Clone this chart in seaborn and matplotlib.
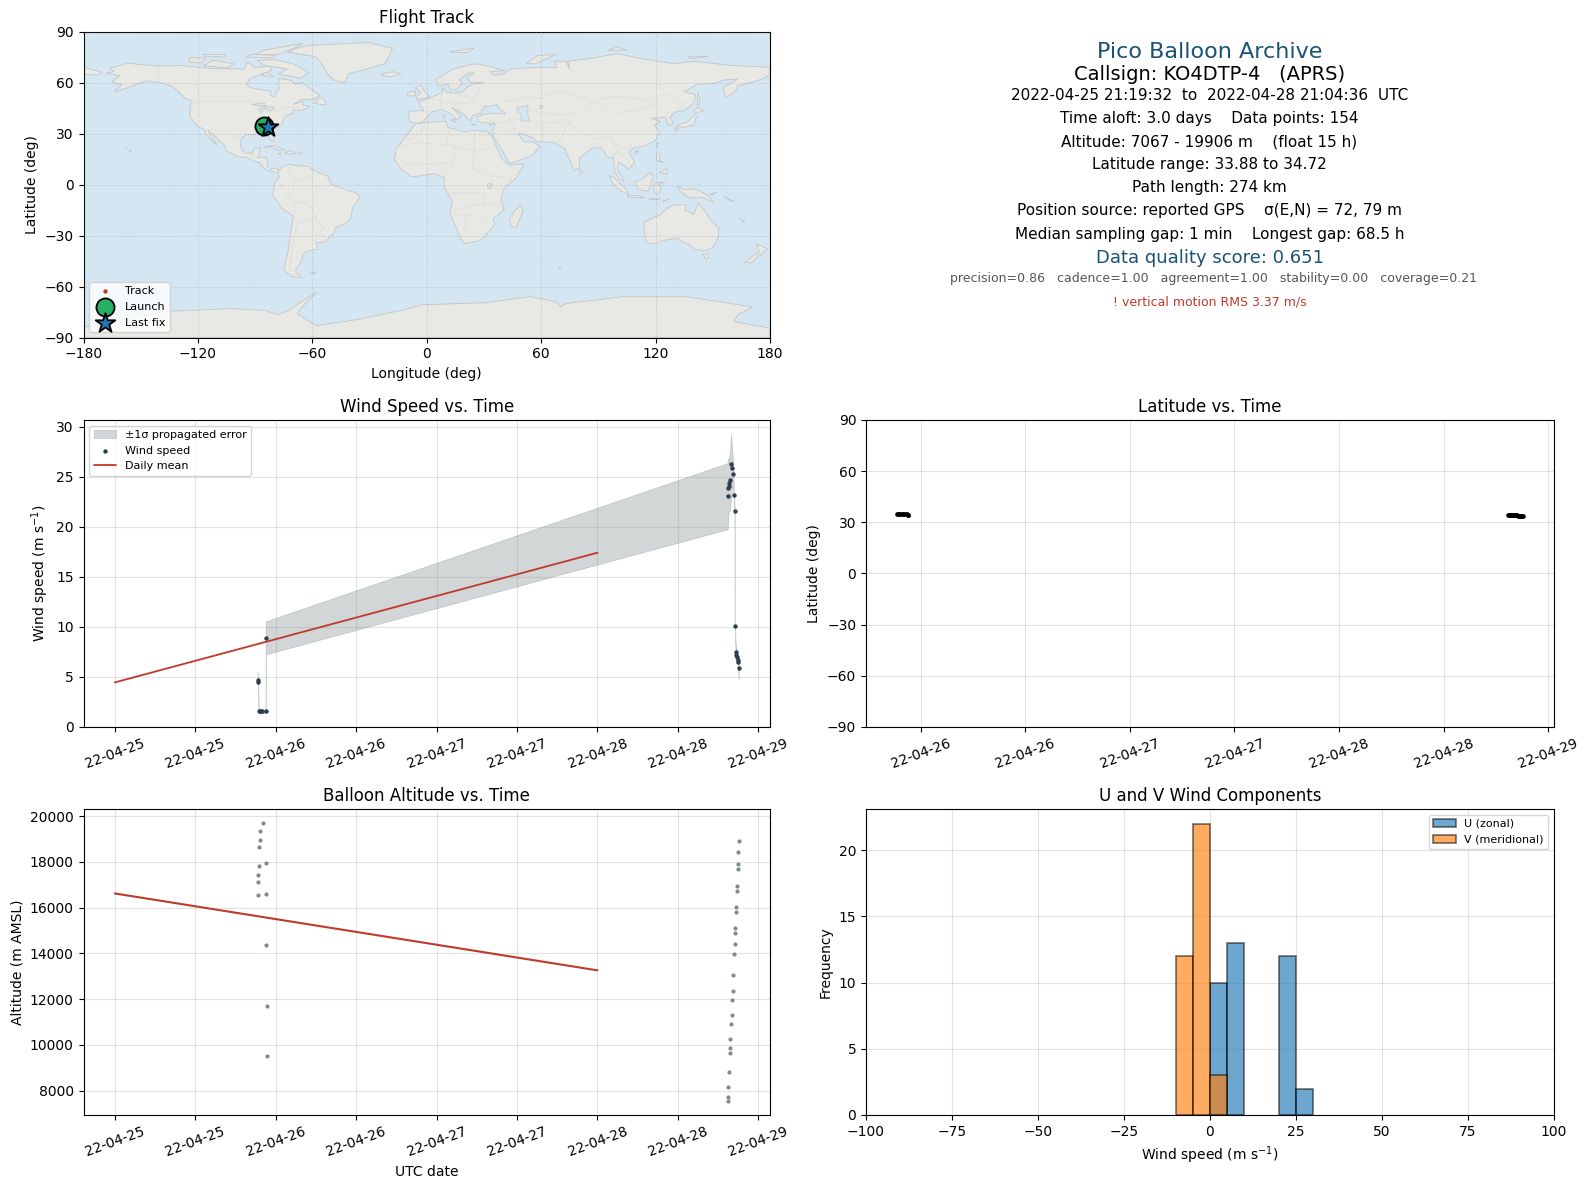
import matplotlib
matplotlib.use("Agg")
import matplotlib.pyplot as plt
import matplotlib.dates as mdates
from matplotlib.patches import Polygon
import numpy as np
import pandas as pd
import seaborn as sns

sns.set_style("ticks")
plt.rcParams.update({"font.family": "DejaVu Sans", "axes.edgecolor": "black", "xtick.color": "black",
                     "ytick.color": "black", "text.color": "black", "axes.labelcolor": "black",
                     "xtick.direction": "out", "ytick.direction": "out",
                     "xtick.bottom": True, "ytick.left": True, "axes.linewidth": 0.8})

# ---------- flight data ----------
seg1_start = "2022-04-25 21:19:32"
seg2_start = "2022-04-28 19:26:00"

wind_seg1_min = [0, 2, 8, 18, 30, 40, 71, 72]
wind_seg1 = [4.7, 4.5, 1.55, 1.55, 1.55, 1.55, 1.55, 8.9]
sigma_seg1 = [0.75, 0.75, 0.15, 0.15, 0.15, 0.15, 0.15, 1.65]

wind_seg2_min = [0, 3, 9, 15, 21, 30, 39, 48, 53, 62, 63, 71, 74, 80, 89, 90, 98]
wind_seg2 = [23.05, 23.9, 24.1, 24.35, 24.65, 26.24, 25.84, 25.25, 23.15, 21.55, 10.09, 7.5, 7.2, 7.0, 6.7, 6.5, 5.9]
sigma_seg2 = [3.3, 2.9, 2.6, 2.8, 3.0, 3.05, 1.8, 1.2, 0.6, 0.3, 0.25, 0.7, 0.8, 0.6, 0.5, 0.6, 1.15]

alt_seg1_min = [0, 1, 2, 8, 9, 18, 19, 44, 71, 71, 72, 80, 80]
alt_seg1 = [16551, 17116, 17420, 17812, 18638, 18942, 19333, 19681, 17942, 16595, 14378, 11683, 9506]

alt_seg2_min = [98, 89, 89, 88, 80, 80, 71, 71, 62, 62, 62, 53, 45, 45, 36, 36, 27, 18, 18, 18, 9, 0, 0, 0]
alt_seg2 = [18898, 18420, 17899, 17681, 16942, 16725, 16029, 15812, 15116, 14899, 14421, 13986,
            13073, 12378, 11943, 11291, 10900, 10248, 9857, 9639, 8813, 8161, 7727, 7545]

lat_seg1_min = [0, 6, 12, 18, 30, 36, 42, 56, 64, 72, 76]
lat_seg1 = [34.72, 34.7, 34.7, 34.68, 34.66, 34.65, 34.62, 34.6, 34.6, 34.58, 34.55]
lat_seg2_min = [0, 6, 13, 19, 26, 32, 39, 45, 52, 58, 65, 71, 78, 84, 91, 98]
lat_seg2 = [34.2, 34.2, 34.18, 34.15, 34.15, 34.12, 34.1, 34.1, 34.08, 34.05, 34.0, 34.0, 33.98, 33.95, 33.9, 33.88]

daily_dates = ["2022-04-25", "2022-04-28"]
daily_wind = [4.45, 17.4]
daily_alt = [16620, 13260]

track_lon = [-85.1, -85.0, -84.8, -84.4, -84.0, -83.7, -83.5]
track_lat = [34.4, 34.5, 34.7, 34.4, 34.2, 34.0, 34.0]
launch_lon, launch_lat = [-85.1], [34.4]
last_lon, last_lat = [-83.5], [34.0]

bin_edges = list(range(-100, 105, 5))
u_bin_left = [0, 5, 20, 25]
u_counts = [10, 13, 12, 2]
v_bin_left = [-10, -5, 0]
v_counts = [12, 22, 3]

lat_ticks = [-90, -60, -30, 0, 30, 60, 90]
lon_ticks = [-180, -120, -60, 0, 60, 120, 180]

# ---------- coarse world outline (lon, lat) ----------
north_america = [(-168,65.5),(-164,66.5),(-166,68.5),(-156.5,71.3),(-141,69.6),(-128,70),(-115,68.5),(-108,68),(-96,68),(-94,72),(-90,69),(-82,69.5),(-81.5,67),(-87,65),(-93,62),(-94.5,59),(-92.5,57),(-85,55.3),(-82,55),(-82,52.5),(-79.5,51.3),(-79,54.5),(-77,56.5),(-78,59),(-77.5,62.5),(-72,61.5),(-69,59),(-65,60),(-61.5,56.5),(-56,52.5),(-60,50),(-66,50),(-70,47),(-65,49),(-64.5,46.5),(-61,46),(-65.5,43.5),(-70,43.8),(-70.5,41.7),(-74,40.5),(-75.5,37.5),(-76,35),(-78,33.9),(-81,32),(-81.4,30),(-80,26.8),(-80.5,25.2),(-81.8,26),(-82.8,28),(-84,30),(-86,30.4),(-89.5,30.2),(-90,29.2),(-94,29.6),(-97.2,27.5),(-97.7,22.5),(-96,19),(-94.5,18.2),(-91.5,18.5),(-90.5,21),(-87,21.5),(-88,18),(-88.8,15.9),(-84,15.8),(-83.4,12),(-83.7,10.5),(-81.5,9),(-79.5,9.6),(-77.3,8.6),(-77.9,7.2),(-80,7.3),(-81.7,8),(-83.5,8.4),(-85.7,10),(-87.6,13),(-91.5,14),(-94.5,16.2),(-98,16),(-102,18),(-105.5,20),(-105.5,22.5),(-109,26),(-112.5,30),(-114.8,31.7),(-113,28),(-110,23.5),(-112,25),(-115,28.5),(-117,32.5),(-120.5,34.5),(-122.5,37.5),(-124.3,40.5),(-124,46),(-123,49),(-127,51),(-130,54.5),(-134,58),(-140,60),(-147,61),(-152,59),(-158,56.5),(-164,54.7),(-160,58.5),(-165,60.5),(-161,64)]
south_america = [(-77.3,8.6),(-75.5,10.7),(-72,12),(-68,11),(-62,10.7),(-60,8.5),(-52,5),(-50,0),(-44,-2.5),(-37,-5),(-35,-7.5),(-39,-14),(-39.5,-19),(-41,-22),(-48,-25.5),(-48.7,-28.5),(-53,-33.5),(-58,-34.5),(-57,-38),(-62,-39),(-65,-41),(-65.5,-45),(-69,-50.5),(-65.5,-55),(-71,-54),(-75,-50),(-73,-41),(-71.5,-30),(-70,-18.5),(-76,-14),(-81,-6),(-80,-2),(-80,1),(-77.5,4),(-77.9,7.2)]
africa = [(-6,35.8),(10,37.3),(11,33.5),(20,31),(25,32),(32,31),(34.2,28),(37,21),(39,15.5),(43,11.5),(51,12),(47,4),(40,-3),(39,-9),(40.5,-15),(35,-20),(35.5,-24),(32.5,-28),(28,-33),(20,-34.8),(18,-32),(14.5,-23),(12,-17),(13.5,-10),(9,-1),(9.5,4),(4,6.3),(-4,5),(-8,4.5),(-13,8.5),(-17,14.7),(-16,21),(-10,29.5)]
eurasia = [(-9,37),(-9.5,43),(-1.5,43.5),(-4.5,48.5),(2,51),(8,54),(8.5,57),(10.5,54),(14,54),(19,54.5),(21,57),(24,59),(30,60),(23,60),(21,63),(25,65.5),(22,65.7),(17,61.5),(19,60),(16,56.2),(13,55.5),(11,59),(6,58),(5,62),(14,68),(25,71),(31,70),(41,67),(33,66.5),(35,64.2),(40,65),(44,68),(60,69),(68,68.7),(67,72.5),(73,72.5),(75,68),(74,72.5),(85,74),(100,77),(113,74),(130,71),(140,72.5),(160,70),(180,69),(180,65),(177,62.5),(170,60),(163,58),(162,55),(156.5,51),(155.5,57),(163,62),(156,61.5),(150,59.3),(142,59),(135,54.5),(141,53),(140,48),(135,43.5),(130,42.5),(127.5,39.5),(129.4,36),(126.5,34.5),(126,37.5),(125,39.7),(121,39),(118,39),(122.5,37),(119.5,35),(122,31),(120,26),(114,22.5),(108.5,21.5),(106,19),(109,13),(106,9),(105,10),(100.5,13.5),(100,9),(103.5,2),(101,3),(98.5,8),(98,16),(94.5,16),(92,21.5),(87,21.5),(80,15.5),(80,10),(77.5,8),(73,19),(72.5,21),(67,24.5),(57,25.5),(56.5,27),(50,30),(48,30),(51,25),(56,25),(59.5,22.5),(55,17),(45,12.7),(43,13),(39,21),(35,28),(34.5,31.5),(36,36),(30,36.3),(27,37),(26.5,40),(29,41),(35,42),(41.5,41.5),(38,44.7),(37,47),(33,46),(30.5,46),(28,42),(24,40.7),(23,37),(19.5,41),(13,45.5),(18,40),(16,38),(12,42),(8,44),(3,43),(0,39.5),(-2,36.8),(-5.5,36)]
chukotka = [(-180,69),(-170,66),(-173,64.3),(-180,65)]
australia = [(114,-22),(122,-18),(126,-14),(130,-12),(136,-12),(135.5,-15),(140,-17.5),(142.5,-11),(145.5,-15),(149,-21),(153,-25.5),(153,-31),(150,-37),(146,-39),(140,-38),(137.5,-35),(136,-34.8),(131,-31.5),(124,-33),(118,-35),(115,-34),(114,-26)]
greenland = [(-73,78),(-66,81),(-60,82),(-30,83.5),(-18,80),(-20,75),(-22,71),(-33,67.5),(-41,65),(-43,60),(-48,61),(-52,65),(-54,69),(-58,75)]
antarctica = [(-180,-90),(-180,-84),(-160,-80),(-150,-77),(-135,-74.5),(-103,-73),(-85,-74),(-78,-76.5),(-72,-74),(-66,-69),(-57.5,-63.4),(-63,-69),(-68,-76),(-58,-83),(-38,-79.7),(-12,-73.8),(-3,-70.8),(31,-69.5),(54,-66),(68,-69),(70,-72),(73,-70),(103,-66),(136,-66),(171,-72),(163,-76.7),(161,-80.6),(180,-84.5),(180,-90)]
islands = [
    [(-80,73.5),(-70,71),(-62,66),(-66,62.5),(-73,64),(-78,65),(-73,68),(-85,70),(-89,73)],
    [(-117,70),(-105,68.5),(-101,71),(-112,73)], [(-90,76.5),(-85,79),(-65,83),(-70,80),(-78,76.5)],
    [(-125,72),(-118,71.5),(-116,74.5),(-124,74.5)], [(-95,75),(-80,74.5),(-80,76),(-92,76.5)],
    [(-117,75.5),(-106,75),(-106,76.5),(-117,76.5)], [(-59,47.7),(-53,46.7),(-53,49),(-56,51.5)],
    [(-87,64),(-80,63.5),(-84,66)], [(-5.5,50),(1.5,51.2),(0,53.5),(-2,56),(-3,58.6),(-6,57),(-3,54),(-5,52)],
    [(-10,52),(-6,52.2),(-6,55),(-10,54)], [(-24,65),(-18,66.4),(-13.5,65),(-19,63.4),(-23,64)],
    [(12,78),(25,80.3),(21,77.5)], [(52,71),(57,71),(68,76.5),(58,75.8)], [(95,79),(105,79),(100,81)],
    [(137,75),(148,75.5),(140,74)], [(142,54),(143.5,49),(142,46),(142,50)],
    [(130.9,34),(135,33.7),(140,35),(141.5,40),(140,41),(137,37),(133,35.6)], [(140,43),(142,45.5),(145,43.5),(141,41.7)],
    [(130,33.5),(132,33),(130.5,31.2)], [(120.2,23),(121.5,25.2),(121,22)], [(109,19),(111,20),(110,18)],
    [(120.5,18.5),(122.3,18.3),(122,14),(124,13),(120.5,14)], [(122,7),(126,9.5),(126,6),(124,6.5)],
    [(109,1.5),(113,3),(117,7),(119,5),(117.5,0.5),(116,-4),(111,-3)], [(95.3,5.6),(98,4),(104,-2),(106,-6),(102,-4),(98,0)],
    [(105.3,-6.5),(111,-6.5),(114.5,-8),(106,-7.5)], [(119.5,-5.5),(119,-1),(120,1),(125,1.5),(121,0),(123,-1),(122,-5)],
    [(131,-1),(135,-3),(141,-2.7),(147,-6),(150.5,-10.5),(144,-7.5),(138,-8),(133,-4)], [(148,-6),(152,-4.5),(150,-6)],
    [(80,9.5),(82,7.5),(80.5,6)], [(49.3,-12),(50.5,-15.5),(47,-25),(44,-25),(43.5,-20),(46,-15.7)],
    [(145,-41),(148,-41),(147.5,-43.5),(146,-43.5)], [(173,-35),(178.5,-37.7),(175,-41.5),(174,-39)],
    [(172.7,-40.5),(174,-42),(170.5,-46),(166.5,-46),(171,-42)], [(-85,22),(-80,23),(-74.2,20.2),(-77.7,19.9),(-82,22.5)],
    [(-74.4,18.5),(-72,20),(-68.4,18.6),(-71.5,17.8)], [(-78.3,18.3),(-76.3,18.2),(-77,17.7)], [(-67.2,18.5),(-65.7,18.4),(-66,18)],
    [(-156,19),(-155,19.8),(-156,20.2)], [(-158.3,21.3),(-157.7,21.6),(-157.7,21.2)], [(12.5,38),(15.5,38.2),(15,36.7)],
    [(8.2,41),(9.7,41),(9.5,39.2),(8.5,39)], [(23.5,35.5),(26.3,35.2),(24,35)], [(32.5,35),(34.5,35.6),(33.5,34.6)],
    [(-61,-52),(-58,-51.5),(-59,-52.3)], [(164,-20),(167,-22),(166,-22)], [(69,-49),(70.5,-49.2),(69.5,-49.6)],
    [(156,-7),(161,-10),(159,-9.5)], [(124,-9.5),(127,-8.5),(124,-10.2)], [(116,-8.5),(123,-8.3),(120,-9)],
]
inland_water = [[(47,45),(53,46.8),(53,40),(54,37),(49.5,37.5),(49.5,41)],
                [(-92,47),(-85,48),(-84.5,46.5),(-88,46.5)], [(-88,45),(-85,46),(-80,45.5),(-82,43),(-85,45),(-87,42)],
                [(59,46.5),(61,46.5),(60,44.5)], [(32,0.5),(34,0.5),(33.5,-2.5),(32,-2)]]
border_lines = [
    [(-123,49),(-95,49),(-83,46),(-79,43),(-75,45),(-67,45.5)], [(-141,69.6),(-141,60)], [(-117,32.5),(-106.5,31.8),(-97.2,26)],
    [(-92,14.5),(-91,18)], [(-70,-18),(-69,-11),(-74,-7),(-70,-4),(-70,1),(-67,2),(-60,5)], [(-70,-18),(-68,-23),(-70,-33),(-72,-50),(-68,-53)],
    [(-68,-23),(-58,-20),(-60,-14),(-65,-10),(-69,-11)], [(-58,-20),(-54,-26),(-58,-30),(-58,-34)], [(-78,0.5),(-75,-1),(-80,-4)], [(-72,12),(-72,7),(-67,2)],
    [(-13,27),(-8,27),(-3,31),(-2,35)], [(-17,21),(-5,25),(12,23),(25,20),(37,22)], [(25,32),(25,20),(24,9),(34,5),(42,4)], [(12,33),(10,24),(15,23),(14,13),(3,12),(-12,12)],
    [(14,13),(9,4)], [(12,-5),(30,-5),(30,-12),(22,-12),(12,-17)], [(30,-12),(40,-11)], [(14,-18),(25,-18),(32,-22)], [(20,-18),(20,-29),(17,-29)], [(34,5),(34,-1),(40,-4)], [(43,11),(48,8),(42,1)],
    [(-2,43),(3,42.5)], [(2,51),(8,49),(7,44)], [(8,54),(7,49),(13,48),(24,48),(30,46)], [(14,54),(24,50),(28,56),(28,60)], [(13,48),(19,42)], [(26,41),(36,36.5)],
    [(44,39),(42,37),(36,36)], [(35,30),(39,32),(47,29),(48,30)], [(44,39),(45,34),(48,30)], [(44,39),(61,36),(61,25)], [(61,36),(75,37),(71,28),(68,24)],
    [(38,48),(50,51),(60,51),(70,55),(87,49)], [(50,45),(60,42),(70,41),(80,42),(87,49)], [(87,49),(98,52),(115,50),(125,53),(135,48),(131,43)], [(87,49),(98,42),(112,44),(119,47),(115,50)],
    [(75,37),(79,31),(88,27),(97,28),(98,24),(102,22),(108,21.5)], [(92,21),(89,26)], [(98,24),(100,20),(98,16)], [(100,20),(105,15),(107,11)], [(141,-2.7),(141,-9)],
]

# ---------- layout (pixel rectangles) ----------
W, H = 1589, 1189
def rect(l, t, r, b):
    return [l / W, 1 - b / H, (r - l) / W, (b - t) / H]

COL1 = (83.5, 770)
COL2 = (866, 1554)
ROW1 = (31.5, 337.5)
ROW2 = (420, 727)
ROW3 = (809, 1115)

fig = plt.figure(figsize=(W / 100, H / 100), dpi=100, facecolor="white")
ax_map = fig.add_axes(rect(COL1[0], ROW1[0], COL1[1], ROW1[1]))
ax_txt = fig.add_axes(rect(COL2[0], ROW1[0], COL2[1], ROW1[1]))
ax_wind = fig.add_axes(rect(COL1[0], ROW2[0], COL1[1], ROW2[1]))
ax_lat = fig.add_axes(rect(COL2[0], ROW2[0], COL2[1], ROW2[1]))
ax_alt = fig.add_axes(rect(COL1[0], ROW3[0], COL1[1], ROW3[1]))
ax_hist = fig.add_axes(rect(COL2[0], ROW3[0], COL2[1], ROW3[1]))

OCEAN, LAND, COAST, BORDER = "#d4e6f1", "#e8e8e4", "#c2c6c8", "#dedeDa"
RED, DARK, GREY = "#c0392b", "#2c3e50", "#7f8c8d"

# ---------- map ----------
ax_map.set_facecolor(OCEAN)
for poly in [north_america, south_america, africa, eurasia, chukotka, australia, greenland, antarctica] + islands:
    ax_map.add_patch(Polygon(poly, closed=True, facecolor=LAND, edgecolor=COAST, linewidth=0.6, zorder=1))
for poly in inland_water:
    ax_map.add_patch(Polygon(poly, closed=True, facecolor=OCEAN, edgecolor=COAST, linewidth=0.5, zorder=1.2))
for line in border_lines:
    xs, ys = zip(*line)
    ax_map.plot(xs, ys, color=BORDER, lw=0.6, zorder=1.1)
ax_map.grid(True, color="#808080", alpha=0.22, lw=0.6, ls="--")
ax_map.set_axisbelow(False)
sns.scatterplot(x=track_lon, y=track_lat, ax=ax_map, s=10, color=RED, linewidth=0, label="Track", zorder=3)
sns.scatterplot(x=launch_lon, y=launch_lat, ax=ax_map, s=170, color="#27ae60", edgecolor="black", linewidth=1.3, label="Launch", zorder=4)
sns.scatterplot(x=last_lon, y=last_lat, ax=ax_map, s=220, marker="*", color="#1f77b4", edgecolor="black", linewidth=1.3, label="Last fix", zorder=5)
ax_map.set_xlim(-180, 180)
ax_map.set_ylim(-90, 90)
ax_map.set_xticks(lon_ticks)
ax_map.set_yticks(lat_ticks)
ax_map.set_xlabel("Longitude (deg)", fontsize=10)
ax_map.set_ylabel("Latitude (deg)", fontsize=10)
ax_map.set_title("Flight Track", fontsize=12, pad=6)
ax_map.tick_params(labelsize=10)
ax_map.legend(loc="lower left", fontsize=8, framealpha=0.8)

# ---------- text panel ----------
ax_txt.axis("off")
BLUE = "#1a5276"
info_lines = [
    ("Pico Balloon Archive", 52, 16, BLUE, 1210), ("Callsign: KO4DTP-4   (APRS)", 74.5, 14, "black", 1210),
    ("2022-04-25 21:19:32  to  2022-04-28 21:04:36  UTC", 96, 11, "black", 1210),
    ("Time aloft: 3.0 days    Data points: 154", 119, 11, "black", 1209.5),
    ("Altitude: 7067 - 19906 m    (float 15 h)", 142, 11, "black", 1209.5),
    ("Latitude range: 33.88 to 34.72", 165, 11, "black", 1209.5), ("Path length: 274 km", 187.5, 11, "black", 1209.5),
    ("Position source: reported GPS    σ(E,N) = 72, 79 m", 211, 11, "black", 1209.5),
    ("Median sampling gap: 1 min    Longest gap: 68.5 h", 234, 11, "black", 1210),
    ("Data quality score: 0.651", 258, 13, BLUE, 1210),
    ("precision=0.86   cadence=1.00   agreement=1.00   stability=0.00   coverage=0.21", 278.5, 9, "#555555", 1214),
    ("! vertical motion RMS 3.37 m/s", 302, 9, RED, 1210),
]
for text, py, size, col, px in info_lines:
    fig.text(px / W, 1 - py / H, text, fontsize=size, color=col, ha="center", va="center")

# ---------- time helpers ----------
def stamps(start, minutes):
    return pd.Timestamp(start) + pd.to_timedelta(minutes, unit="min")

t_wind = stamps(seg1_start, wind_seg1_min).append(stamps(seg2_start, wind_seg2_min))
wind = np.array(wind_seg1 + wind_seg2)
sigma = np.array(sigma_seg1 + sigma_seg2)
t_alt = stamps(seg1_start, alt_seg1_min).append(stamps(seg2_start, alt_seg2_min))
t_lat = stamps(seg1_start, lat_seg1_min).append(stamps(seg2_start, lat_seg2_min))
t_daily = pd.to_datetime(daily_dates)

def fmt_time_axis(ax):
    ax.xaxis.set_major_locator(mdates.HourLocator(byhour=[0, 12]))
    ax.xaxis.set_major_formatter(mdates.DateFormatter("%y-%m-%d"))
    ax.tick_params(axis="x", labelsize=10, labelrotation=20)
    ax.tick_params(axis="y", labelsize=10)
    for lab in ax.get_xticklabels():
        lab.set_ha("center")
    ax.grid(True, color="#b0b0b0", alpha=0.35, lw=0.8)
    ax.set_axisbelow(True)

full_left = pd.Timestamp("2022-04-24 19:20")
full_right = pd.Timestamp("2022-04-29 01:44")

# ---------- wind ----------
ax_wind.fill_between(t_wind, wind - sigma, wind + sigma, color=GREY, alpha=0.35, linewidth=0.6, label="±1σ propagated error")
sns.scatterplot(x=t_wind, y=wind, ax=ax_wind, s=10, color=DARK, linewidth=0, label="Wind speed", zorder=3)
sns.lineplot(x=t_daily, y=daily_wind, ax=ax_wind, color=RED, lw=1.3, label="Daily mean", zorder=2)
ax_wind.set_xlim(full_left, full_right)
ax_wind.set_ylim(0, 30.65)
ax_wind.set_yticks(range(0, 35, 5))
ax_wind.set_title("Wind Speed vs. Time", fontsize=12, pad=6)
ax_wind.set_xlabel("")
ax_wind.set_ylabel("Wind speed (m s$^{-1}$)", fontsize=10)
fmt_time_axis(ax_wind)
ax_wind.legend(loc="upper left", fontsize=8, framealpha=0.8)

# ---------- latitude ----------
sns.scatterplot(x=t_lat, y=lat_seg1 + lat_seg2, ax=ax_lat, s=11, color="black", linewidth=0)
ax_lat.set_xlim(pd.Timestamp("2022-04-25 17:43"), pd.Timestamp("2022-04-29 00:40"))
ax_lat.set_ylim(-90, 90)
ax_lat.set_yticks(lat_ticks)
ax_lat.set_title("Latitude vs. Time", fontsize=12, pad=6)
ax_lat.set_xlabel("")
ax_lat.set_ylabel("Latitude (deg)", fontsize=10)
fmt_time_axis(ax_lat)

# ---------- altitude ----------
sns.scatterplot(x=t_alt, y=alt_seg1 + alt_seg2, ax=ax_alt, s=9, color=GREY, linewidth=0, zorder=3)
sns.lineplot(x=t_daily, y=daily_alt, ax=ax_alt, color=RED, lw=1.5, zorder=2)
ax_alt.set_xlim(full_left, full_right)
ax_alt.set_ylim(6940, 20310)
ax_alt.set_yticks(range(8000, 22000, 2000))
ax_alt.set_title("Balloon Altitude vs. Time", fontsize=12, pad=6)
ax_alt.set_ylabel("Altitude (m AMSL)", fontsize=10)
ax_alt.set_xlabel("UTC date", fontsize=10)
fmt_time_axis(ax_alt)

# ---------- histogram ----------
sns.histplot(x=np.array(u_bin_left) + 2.5, weights=u_counts, bins=bin_edges, ax=ax_hist, color="#1f77b4",
             alpha=0.65, label="U (zonal)")
sns.histplot(x=np.array(v_bin_left) + 2.5, weights=v_counts, bins=bin_edges, ax=ax_hist, color="#ff7f0e",
             alpha=0.65, label="V (meridional)")
for patch in ax_hist.patches:
    if patch.get_height() > 0:
        patch.set_edgecolor((0, 0, 0, 0.55))
        patch.set_linewidth(1.2)
    else:
        patch.set_linewidth(0)
ax_hist.set_xlim(-100, 100)
ax_hist.set_ylim(0, 23.1)
ax_hist.set_title("U and V Wind Components", fontsize=12, pad=6)
ax_hist.set_xlabel("Wind speed (m s$^{-1}$)", fontsize=10)
ax_hist.set_ylabel("Frequency", fontsize=10)
ax_hist.tick_params(labelsize=10)
ax_hist.grid(True, color="#b0b0b0", alpha=0.35, lw=0.8)
ax_hist.set_axisbelow(True)
handles = [ax_hist.patches[u_bin_left[0] // 5 + 20], ax_hist.patches[40 + (v_bin_left[0] + 100) // 5]]
ax_hist.legend(handles, ["U (zonal)", "V (meridional)"], loc="upper right", fontsize=8, framealpha=0.8)

for ax in [ax_map, ax_wind, ax_lat, ax_alt, ax_hist]:
    for s in ax.spines.values():
        s.set_visible(True)
        s.set_color("black")
        s.set_linewidth(0.8)

fig.savefig("out.png", dpi=100, facecolor="white")
